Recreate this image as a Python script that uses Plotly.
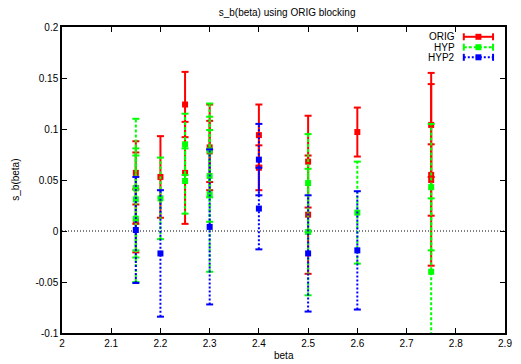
import plotly.graph_objects as go

# ---------------- data ----------------
orig_beta = [2.15, 2.15, 2.15, 2.2, 2.25, 2.25, 2.3, 2.3, 2.4, 2.4, 2.5, 2.5, 2.6, 2.75, 2.75, 2.75]
orig_val = [0.057, 0.042, 0.010, 0.053, 0.124, 0.057, 0.082, 0.078, 0.094, 0.062, 0.068, 0.016, 0.097, 0.104, 0.055, 0.050]
orig_err = [0.031, 0.035, 0.031, 0.040, 0.032, 0.050, 0.042, 0.030, 0.030, 0.022, 0.045, 0.058, 0.024, 0.051, 0.089, 0.035]

hyp_beta = [2.15, 2.15, 2.15, 2.2, 2.25, 2.25, 2.3, 2.3, 2.3, 2.5, 2.5, 2.6, 2.75, 2.75]
hyp_val = [0.042, 0.031, 0.012, 0.032, 0.085, 0.049, 0.079, 0.054, 0.036, 0.047, -0.001, 0.018, 0.043, -0.040]
hyp_err = [0.068, 0.050, 0.062, 0.040, 0.030, 0.032, 0.046, 0.045, 0.076, 0.048, 0.062, 0.050, 0.062, 0.072]

hyp2_beta = [2.15, 2.2, 2.3, 2.4, 2.4, 2.5, 2.6]
hyp2_val = [0.001, -0.022, 0.004, 0.070, 0.022, -0.022, -0.019]
hyp2_err = [0.052, 0.062, 0.076, 0.035, 0.040, 0.057, 0.058]

x_ticks = [2.0, 2.1, 2.2, 2.3, 2.4, 2.5, 2.6, 2.7, 2.8, 2.9]
x_labels = ["2", "2.1", "2.2", "2.3", "2.4", "2.5", "2.6", "2.7", "2.8", "2.9"]
y_ticks = [-0.1, -0.05, 0, 0.05, 0.1, 0.15, 0.2]
y_labels = ["-0.1", "-0.05", "0", "0.05", "0.1", "0.15", "0.2"]

series = [
    ("ORIG", orig_beta, orig_val, orig_err, "#ff0000", "solid"),
    ("HYP", hyp_beta, hyp_val, hyp_err, "#00ff00", "3px,2px"),
    ("HYP2", hyp2_beta, hyp2_val, hyp2_err, "#0000ff", "2px,2px"),
]

FONT = "Liberation Sans, Arial, Helvetica, sans-serif"

fig = go.Figure()

for name, bx, bv, be, col, dash in series:
    xs, ys, cx, cy = [], [], [], []
    for x, v, e in zip(bx, bv, be):
        xs += [x, x, None]
        ys += [v - e, v + e, None]
        cx += [x, x]
        cy += [v - e, v + e]
    fig.add_trace(go.Scatter(x=xs, y=ys, mode="lines",
                             line=dict(color=col, width=2, dash=dash),
                             showlegend=False, hoverinfo="skip"))
    fig.add_trace(go.Scatter(x=cx, y=cy, mode="markers",
                             marker=dict(symbol="line-ew", size=5, line=dict(color=col, width=2)),
                             showlegend=False, hoverinfo="skip"))
    fig.add_trace(go.Scatter(x=bx, y=bv, mode="markers",
                             marker=dict(symbol="square", size=6, color=col, line=dict(width=0)),
                             showlegend=False, name=name))

# ---------------- hand-made legend (gnuplot style: text left of sample) ----------------
leg_y = [0.968, 0.934, 0.901]
for (name, bx, bv, be, col, dash), ly in zip(series, leg_y):
    fig.add_trace(go.Scatter(x=[0.907, 0.973], y=[ly, ly], mode="lines",
                             line=dict(color=col, width=2, dash=dash),
                             xaxis="x2", yaxis="y2", showlegend=False, hoverinfo="skip"))
    fig.add_trace(go.Scatter(x=[0.907, 0.973], y=[ly, ly], mode="markers",
                             marker=dict(symbol="line-ns", size=5, line=dict(color=col, width=2)),
                             xaxis="x2", yaxis="y2", showlegend=False, hoverinfo="skip"))
    fig.add_trace(go.Scatter(x=[0.94], y=[ly], mode="markers",
                             marker=dict(symbol="square", size=6, color=col, line=dict(width=0)),
                             xaxis="x2", yaxis="y2", showlegend=False, hoverinfo="skip"))
    fig.add_annotation(x=0.891, y=ly, xref="paper", yref="paper", text=name,
                       showarrow=False, xanchor="right", yanchor="middle",
                       font=dict(family=FONT, size=10, color="black"))

# zero axis
fig.add_shape(type="line", xref="paper", yref="y", x0=0, x1=1, y0=0, y1=0,
              line=dict(color="black", width=1, dash="1px,2px"), layer="below")

axis_common = dict(showline=True, linecolor="black", linewidth=1.5, mirror="ticks",
                   ticks="inside", ticklen=5, tickwidth=1, tickcolor="black",
                   showgrid=False, zeroline=False,
                   tickfont=dict(family=FONT, size=10, color="black"))

fig.update_layout(
    width=521, height=364,
    margin=dict(l=62, r=9, t=27, b=31),
    paper_bgcolor="white", plot_bgcolor="white",
    showlegend=False,
    title=dict(text="s_b(beta) using ORIG blocking", x=0.551, y=1 - 12 / 364,
               xanchor="center", yanchor="middle",
               font=dict(family=FONT, size=10, color="black")),
    xaxis=dict(range=[2.0, 2.9], tickvals=x_ticks, ticktext=x_labels, **axis_common),
    yaxis=dict(range=[-0.1, 0.2], tickvals=y_ticks, ticktext=y_labels, **axis_common),
    xaxis2=dict(range=[0, 1], overlaying="x", visible=False, fixedrange=True),
    yaxis2=dict(range=[0, 1], overlaying="y", visible=False, fixedrange=True),
)

fig.add_annotation(x=0.5, y=-22 / 306, xref="paper", yref="paper", text="beta",
                   showarrow=False, xanchor="center", yanchor="middle",
                   font=dict(family=FONT, size=10, color="black"))
fig.add_annotation(x=-48 / 450, y=0.5, xref="paper", yref="paper", text="s_b(beta)",
                   showarrow=False, xanchor="center", yanchor="middle", textangle=-90,
                   font=dict(family=FONT, size=10, color="black"))

fig.write_html("out.html")
